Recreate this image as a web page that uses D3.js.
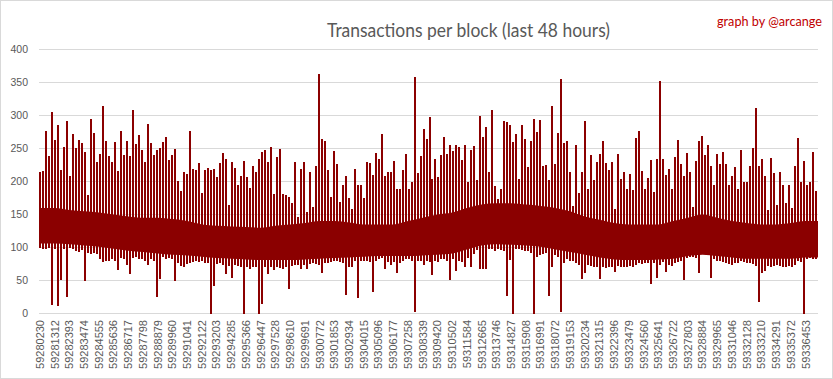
<!DOCTYPE html>
<html>
<head>
<meta charset="utf-8">
<script src="https://cdn.jsdelivr.net/npm/d3@7"></script>
<style>
  body { margin: 0; background: #fff; }
  svg { display: block; font-family: "Liberation Sans", Arial, sans-serif; }
</style>
</head>
<body>
<div id="chart"></div>
<script>
// Transactions per block (last 48 hours), one bin ~ 220 blocks

const firstBlock = 59280160,
  blocksPerBin = 220;

const tickBlocks = [
  59280230, 59281312, 59282393, 59283474, 59284555, 59285636, 59286717, 59287798, 59288879, 59289960,
  59291041, 59292122, 59293203, 59294285, 59295366, 59296447, 59297528, 59298610, 59299691, 59300772,
  59301853, 59302934, 59304015, 59305096, 59306177, 59307258, 59308339, 59309420, 59310502, 59311584,
  59312665, 59313746, 59314827, 59315908, 59316991, 59318072, 59319153, 59320234, 59321315, 59322396,
  59323479, 59324560, 59325641, 59326722, 59327803, 59328884, 59329965, 59331046, 59332128, 59333210,
  59334291, 59335372, 59336453
];

const yTicks = [0, 50, 100, 150, 200, 250, 300, 350, 400];

// highest tx count seen in each bin
const binMax = [
  215, 216, 277, 238, 306, 263, 285, 217, 253, 292, 209, 272, 251, 263, 259, 244, 180, 294, 274, 229,
  241, 315, 262, 238, 230, 260, 216, 276, 240, 261, 239, 308, 257, 270, 247, 230, 287, 259, 240, 248,
  251, 260, 268, 233, 240, 250, 201, 185, 214, 212, 276, 219,
  218, 228, 183, 218, 221, 218, 219, 207, 228, 243, 234, 164, 230, 221, 194, 209, 231, 207, 190, 223,
  215, 234, 245, 248, 229, 252, 181, 237, 250, 181, 180, 177, 167, 229, 146, 219, 230, 154, 215, 161,
  224, 363, 265, 262, 217, 176, 246, 226, 169, 194, 209, 175,
  159, 219, 194, 194, 175, 230, 228, 210, 243, 234, 272, 208, 214, 215, 231, 189, 189, 218, 241, 188,
  200, 359, 213, 239, 280, 265, 298, 204, 234, 207, 240, 268, 241, 255, 246, 255, 252, 232, 256, 200,
  248, 254, 202, 299, 268, 282, 215, 309, 193, 173, 188, 291,
  290, 285, 260, 272, 204, 285, 265, 222, 261, 294, 275, 293, 223, 225, 203, 315, 227, 274, 355, 259,
  261, 214, 163, 256, 183, 214, 291, 189, 240, 203, 229, 241, 262, 228, 218, 229, 159, 241, 204, 214,
  188, 212, 187, 266, 277, 216, 188, 205, 233, 184, 234, 353,
  234, 210, 219, 189, 237, 263, 226, 209, 243, 214, 161, 231, 262, 269, 240, 256, 224, 194, 242, 227,
  245, 227, 194, 208, 222, 189, 248, 200, 200, 224, 251, 312, 224, 234, 209, 157, 236, 213, 165, 215,
  194, 168, 194, 160, 224, 266, 199, 231, 194, 199, 245, 186
];

// lowest tx count seen in each bin
const binMin = [
  100, 98, 97, 100, 13, 98, 11, 51, 98, 25, 100, 97, 95, 93, 96, 49, 92, 90, 91, 90,
  83, 78, 79, 80, 82, 80, 66, 84, 82, 74, 60, 84, 85, 83, 82, 80, 74, 82, 80, 25,
  52, 86, 82, 84, 83, 49, 76, 72, 70, 75, 77, 78,
  80, 78, 79, 77, 76, 0, 42, 75, 76, 74, 60, 72, 54, 73, 72, 71, 0, 70, 68, 71,
  70, 0, 14, 70, 60, 71, 66, 70, 69, 68, 70, 37, 72, 74, 73, 68, 74, 67, 75, 76,
  75, 74, 61, 77, 76, 78, 80, 79, 78, 77, 28, 70,
  70, 80, 24, 80, 79, 80, 78, 32, 80, 82, 84, 68, 78, 73, 78, 61, 77, 80, 82, 82,
  80, 2, 80, 79, 73, 80, 78, 58, 80, 78, 82, 82, 80, 51, 82, 64, 80, 78, 70, 84,
  70, 90, 96, 68, 68, 67, 98, 97, 95, 98, 96, 95,
  26, 81, 0, 97, 97, 96, 95, 94, 92, 0, 86, 88, 90, 92, 26, 70, 88, 86, 2, 77,
  82, 80, 79, 76, 74, 52, 61, 74, 72, 70, 71, 52, 70, 69, 70, 71, 63, 72, 70, 71,
  70, 72, 71, 74, 76, 75, 77, 76, 44, 76, 54, 74,
  78, 63, 74, 72, 76, 78, 80, 51, 84, 86, 85, 84, 61, 96, 95, 92, 54, 82, 80, 79,
  78, 76, 75, 74, 76, 77, 79, 78, 77, 76, 75, 72, 17, 62, 65, 72, 71, 72, 73, 72,
  70, 71, 72, 70, 73, 80, 78, 0, 82, 84, 83, 82
];

// solid core of the series, one value per labelled block
const bandTop = [
  160, 160, 157, 155, 153, 150, 147, 145, 145, 143, 140, 135, 133, 132, 131, 130, 133, 135, 137, 140,
  140, 138, 135, 135, 135, 140, 145, 150, 153, 160, 165, 167, 167, 165, 163, 160, 155, 147, 142, 137,
  135, 135, 135, 140, 145, 150, 145, 140, 137, 135, 135, 137, 140
];
const bandBottom = [
  106, 106, 105, 103, 101, 98, 95, 93, 91, 89, 88, 86, 84, 83, 82, 81, 81, 81, 82, 83,
  84, 85, 86, 87, 87, 87, 88, 89, 91, 97, 103, 105, 104, 103, 101, 97, 93, 89, 85, 82,
  81, 81, 82, 83, 87, 89, 87, 85, 83, 83, 83, 83, 85
];

const width = 833,
  height = 379;

const lastBlock = firstBlock + binMax.length * blocksPerBin;
const red = "#8b0000";

const svg = d3.select("#chart")
  .append("svg")
  .attr("width", width)
  .attr("height", height)
  .attr("viewBox", [0, 0, width, height]);

// chart frame
svg.append("rect")
  .attr("x", 0.5).attr("y", 0.5)
  .attr("width", width - 1).attr("height", height - 1)
  .attr("fill", "#fff")
  .attr("stroke", "#d9d9d9");

const x = d3.scaleLinear()
  .domain([firstBlock, lastBlock])
  .range([39, 818]);

const y = d3.scaleLinear()
  .domain([0, 400])
  .range([313.5, 49.5]);

// gridlines
svg.append("g")
  .selectAll("line")
  .data(yTicks)
  .join("line")
  .attr("x1", 39)
  .attr("x2", 818)
  .attr("y1", d => y(d))
  .attr("y2", d => y(d))
  .attr("stroke", "#d9d9d9")
  .attr("stroke-width", 1);

// y labels
svg.append("g")
  .attr("transform", "translate(39,0)")
  .call(d3.axisLeft(y).tickValues(yTicks).tickSize(0).tickPadding(11))
  .call(g => g.select(".domain").remove())
  .call(g => g.selectAll("text")
    .attr("fill", "#595959")
    .style("font-family", "Liberation Sans, Arial, sans-serif")
    .style("font-size", "10.5px"));

// x labels, vertical
svg.append("g")
  .selectAll("text")
  .data(tickBlocks)
  .join("text")
  .attr("transform", d => `translate(${x(d)},320) rotate(-90)`)
  .attr("text-anchor", "end")
  .attr("dy", "0.35em")
  .attr("fill", "#595959")
  .style("font-size", "11px")
  .text(d => d);

// solid core
const band = tickBlocks.map((b, i) => ({ b, top: bandTop[i], bot: bandBottom[i] }));
band.push({ b: lastBlock, top: bandTop[bandTop.length - 1], bot: bandBottom[bandBottom.length - 1] });
band.unshift({ b: firstBlock, top: bandTop[0], bot: bandBottom[0] });

svg.append("path")
  .datum(band)
  .attr("fill", red)
  .attr("d", d3.area()
    .x(d => x(d.b))
    .y0(d => y(d.bot))
    .y1(d => y(d.top))
    .curve(d3.curveMonotoneX));

// min..max per bin, pixel aligned so the red stays solid
svg.append("g")
  .attr("shape-rendering", "crispEdges")
  .selectAll("rect")
  .data(binMax)
  .join("rect")
  .attr("x", (d, i) => Math.round(x(firstBlock + i * blocksPerBin)))
  .attr("width", 2)
  .attr("y", d => Math.round(y(d)))
  .attr("height", (d, i) => Math.max(1, Math.round(y(binMin[i])) - Math.round(y(d))))
  .attr("fill", red);

// title
svg.append("text")
  .attr("x", 327)
  .attr("y", 37)
  .attr("textLength", 283)
  .attr("lengthAdjust", "spacingAndGlyphs")
  .attr("fill", "#595959")
  .style("font-family", "Lato, 'Open Sans', sans-serif")
  .style("font-size", "18.5px")
  .text("Transactions per block (last 48 hours)");

svg.append("text")
  .attr("x", 717)
  .attr("y", 26)
  .attr("textLength", 105)
  .attr("lengthAdjust", "spacingAndGlyphs")
  .attr("fill", "#c00000")
  .style("font-family", "Lato, 'Open Sans', sans-serif")
  .style("font-size", "13px")
  .text("graph by @arcange");
</script>
</body>
</html>
